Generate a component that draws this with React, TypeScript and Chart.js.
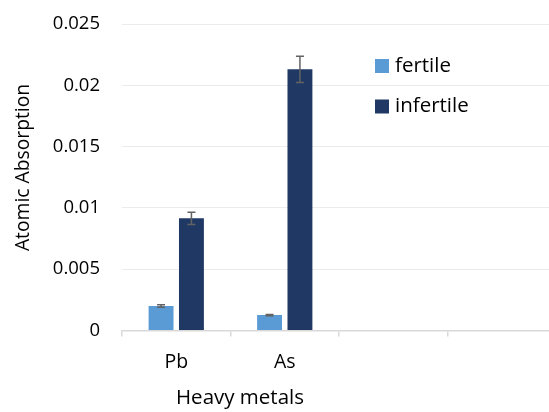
import React, { useEffect, useRef } from "react";
import { Chart, registerables } from "chart.js";

Chart.register(...registerables);

const categories = ["Pb", "As", "", ""];
const fertile = [0.002, 0.00126, null, null];
const infertile = [0.00915, 0.0213, null, null];
const fertileErr = [0.0001, 0.00005, null, null];
const infertileErr = [0.0005, 0.00107, null, null];
const seriesNames = ["fertile", "infertile"];
const seriesColors = ["#5B9BD5", "#203864"];
const yMin = 0;
const yMax = 0.025;
const yStep = 0.005;
const xTitle = "Heavy metals";
const yTitle = "Atomic Absorption";

const FONT = "'Open Sans', 'Noto Sans', sans-serif";

const errorBarPlugin = {
  id: "errorBars",
  afterDatasetsDraw(chart: any) {
    const ctx = chart.ctx;
    const yScale = chart.scales.y;
    const errs = [fertileErr, infertileErr];
    ctx.save();
    ctx.strokeStyle = "#636363";
    ctx.lineWidth = 1.5;
    chart.data.datasets.forEach((ds: any, i: number) => {
      const meta = chart.getDatasetMeta(i);
      meta.data.forEach((bar: any, j: number) => {
        const v = ds.data[j];
        const e = errs[i][j];
        if (v == null || e == null) return;
        const x = bar.x;
        const yt = yScale.getPixelForValue(v + e);
        const yb = yScale.getPixelForValue(v - e);
        ctx.beginPath();
        ctx.moveTo(x, yt);
        ctx.lineTo(x, yb);
        ctx.moveTo(x - 4, yt);
        ctx.lineTo(x + 4, yt);
        ctx.moveTo(x - 4, yb);
        ctx.lineTo(x + 4, yb);
        ctx.stroke();
      });
    });
    ctx.restore();
  },
};

const extrasPlugin = {
  id: "extras",
  afterDraw(chart: any) {
    const ctx = chart.ctx;
    ctx.save();
    ctx.fillStyle = "#000";
    ctx.textBaseline = "middle";
    // legend
    ctx.font = `20.5px ${FONT}`;
    chart.data.datasets.forEach((ds: any, i: number) => {
      const y = 66 + i * 40.5;
      ctx.fillStyle = ds.backgroundColor;
      ctx.fillRect(375, y - 7, 14, 14);
      ctx.fillStyle = "#000";
      ctx.textAlign = "left";
      ctx.fillText(ds.label, 395, y);
    });
    // x title
    ctx.font = `20.5px ${FONT}`;
    ctx.textAlign = "center";
    ctx.fillText(xTitle, 240, 398);
    // y title
    ctx.font = `19.3px ${FONT}`;
    ctx.translate(24, 167.5);
    ctx.rotate(-Math.PI / 2);
    ctx.fillText(yTitle, 0, 0);
    ctx.restore();
  },
};

export default function App() {
  const ref = useRef<HTMLCanvasElement>(null);
  useEffect(() => {
    if (!ref.current) return;
    const chart = new Chart(ref.current, {
      type: "bar",
      data: {
        labels: categories,
        datasets: [
          {
            label: seriesNames[0],
            data: fertile,
            backgroundColor: seriesColors[0],
            categoryPercentage: 0.56,
            barPercentage: 0.82,
          },
          {
            label: seriesNames[1],
            data: infertile,
            backgroundColor: seriesColors[1],
            categoryPercentage: 0.56,
            barPercentage: 0.82,
          },
        ],
      },
      options: {
        responsive: false,
        animation: false,
        devicePixelRatio: 1,
        layout: { padding: { top: 24, left: 0, right: 0, bottom: 0 } },
        plugins: {
          legend: { display: false },
          tooltip: { enabled: false },
        },
        scales: {
          x: {
            grid: {
              offset: true,
              drawOnChartArea: false,
              drawTicks: true,
              tickLength: 6,
              color: "#d9d9d9",
              lineWidth: 1.5,
            },
            border: { display: true, color: "#d9d9d9", width: 1.5 },
            ticks: {
              color: "#000",
              padding: 14,
              font: { family: FONT, size: 19.5 },
            },
            afterFit: (s: any) => {
              s.height = 81.5;
              s.paddingLeft = 0;
              s.paddingRight = 0;
            },
          },
          y: {
            min: yMin,
            max: yMax,
            ticks: {
              stepSize: yStep,
              color: "#000",
              padding: 22,
              font: { family: FONT, size: 18.5 },
              callback: (v: any) => String(Number(Number(v).toFixed(4))),
            },
            grid: { color: "#ececec", lineWidth: 1, drawTicks: false },
            border: { display: false },
            title: { display: false },
            afterFit: (s: any) => {
              s.width = 122;
              s.paddingTop = 0;
              s.paddingBottom = 0;
            },
          },
        },
      },
      plugins: [errorBarPlugin, extrasPlugin],
    });
    return () => chart.destroy();
  }, []);
  return (
    <div
      style={{
        position: "fixed",
        left: 0,
        top: 0,
        width: 549,
        height: 412,
        overflow: "hidden",
        background: "#fff",
      }}
    >
      <canvas ref={ref} width={556} height={412} style={{ width: 556, height: 412, display: "block" }} />
    </div>
  );
}
